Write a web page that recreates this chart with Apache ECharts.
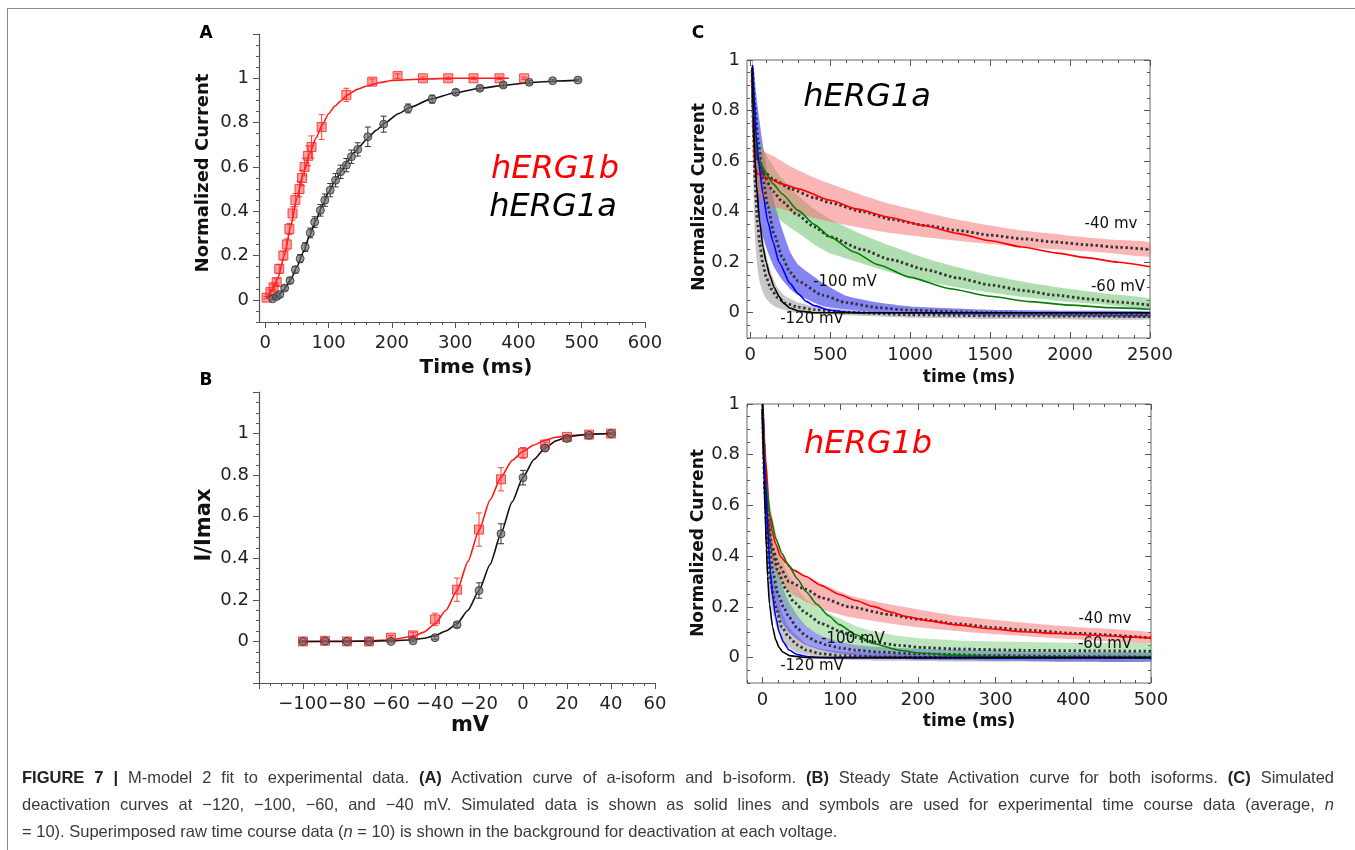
<!DOCTYPE html>
<html>
<head>
<meta charset="utf-8">
<script src="https://cdn.jsdelivr.net/npm/echarts@6/dist/echarts.min.js"></script>
<style>
html, body { margin: 0; padding: 0; background: #fff; }
#wrap { position: relative; width: 1355px; height: 850px; overflow: hidden; }
#chart { position: absolute; left: 0; top: 0; width: 1355px; height: 850px; }
#frame { position: absolute; left: 7px; top: 8px; width: 1360px; height: 900px; border-top: 1.5px solid #888; border-left: 1.5px solid #888; }
.cap { position: absolute; left: 22px; width: 1312px; font-family: "Liberation Sans", Arial, sans-serif; font-size: 16.5px; color: #3a3a3a; text-align: justify; text-align-last: justify; line-height: 20px; }
.cap.last { text-align-last: left; }
.cap b { color: #222; }
</style>
</head>
<body>
<div id="wrap">
  <div id="frame"></div>
  <div id="chart"></div>
  <div class="cap" style="top:767px"><b>FIGURE 7 |</b> M-model 2 fit to experimental data. <b>(A)</b> Activation curve of a-isoform and b-isoform. <b>(B)</b> Steady State Activation curve for both isoforms. <b>(C)</b> Simulated</div>
  <div class="cap" style="top:794px">deactivation curves at −120, −100, −60, and −40 mV. Simulated data is shown as solid lines and symbols are used for experimental time course data (average, <i>n</i></div>
  <div class="cap last" style="top:821px">= 10). Superimposed raw time course data (<i>n</i> = 10) is shown in the background for deactivation at each voltage.</div>
</div>
<script>
// ---- panel A: activation time course ----
const aRedX = [2, 8, 13, 18, 22, 28.5, 34, 38, 43, 47.5, 54, 58, 62, 67.6, 73, 89, 128, 169, 209, 249, 289, 329, 370, 409]
const aRedY = [0.01, 0.035, 0.057, 0.08, 0.14, 0.2, 0.25, 0.32, 0.39, 0.45, 0.5, 0.55, 0.6, 0.65, 0.69, 0.78, 0.925, 0.985, 1.01, 1.0, 1.0, 1.0, 1.0, 1.0]
const aRedErr = [0.005, 0.01, 0.012, 0.015, 0.02, 0.02, 0.025, 0.025, 0.03, 0.03, 0.035, 0.035, 0.04, 0.045, 0.05, 0.056, 0.03, 0.012, 0.01, 0.006, 0.005, 0.005, 0.005, 0.005]
const aBlackX = [11.6, 18, 23, 30.6, 39, 47.5, 55, 63, 71, 78, 87, 94, 102.5, 111, 119, 128, 136, 146, 162, 187, 225.6, 263.6, 301, 339, 376, 417, 454, 494]
const aBlackY = [0.005, 0.015, 0.024, 0.053, 0.087, 0.136, 0.186, 0.238, 0.302, 0.351, 0.404, 0.45, 0.495, 0.54, 0.578, 0.608, 0.646, 0.679, 0.736, 0.793, 0.864, 0.906, 0.937, 0.955, 0.97, 0.982, 0.989, 0.992]
const aBlackErr = [0.005, 0.006, 0.008, 0.01, 0.012, 0.015, 0.018, 0.02, 0.022, 0.024, 0.026, 0.028, 0.03, 0.03, 0.03, 0.03, 0.03, 0.03, 0.044, 0.036, 0.02, 0.018, 0.012, 0.01, 0.01, 0.008, 0.006, 0.005]
const aRedFit = [[2, 0.005], [10, 0.04], [20, 0.1], [30, 0.2], [40, 0.33], [50, 0.46], [60, 0.57], [70, 0.66], [80, 0.73], [90, 0.79], [100, 0.84], [110, 0.875], [120, 0.9], [130, 0.925], [145, 0.95], [160, 0.965], [180, 0.98], [200, 0.99], [250, 0.997], [300, 1.0], [385, 1.0]]
const aBlackFit = [[12, 0.0], [20, 0.018], [30, 0.048], [40, 0.09], [50, 0.15], [60, 0.215], [70, 0.29], [80, 0.36], [90, 0.425], [100, 0.485], [110, 0.535], [120, 0.58], [130, 0.625], [140, 0.665], [150, 0.695], [160, 0.725], [175, 0.765], [190, 0.8], [210, 0.84], [230, 0.87], [260, 0.905], [300, 0.935], [340, 0.955], [380, 0.97], [420, 0.981], [460, 0.988], [494, 0.992]]

// ---- panel B: steady state activation ----
const bX = [-100, -90, -80, -70, -60, -50, -40, -30, -20, -10, 0, 10, 20, 30, 40]
const bRedY = [0.0, 0.003, 0.0, 0.0, 0.018, 0.029, 0.106, 0.249, 0.538, 0.78, 0.907, 0.947, 0.984, 0.995, 1.0]
const bRedErr = [0.004, 0.004, 0.004, 0.004, 0.01, 0.015, 0.03, 0.056, 0.08, 0.056, 0.026, 0.012, 0.008, 0.005, 0.004]
const bBlackY = [0.0, 0.002, 0.0, 0.0, 0.0, 0.003, 0.018, 0.08, 0.245, 0.518, 0.788, 0.93, 0.976, 0.992, 1.0]
const bBlackErr = [0.003, 0.003, 0.003, 0.003, 0.004, 0.005, 0.008, 0.012, 0.037, 0.048, 0.035, 0.015, 0.008, 0.004, 0.003]
const bRedFit = [[-100, 0], [-80, 0.001], [-70, 0.003], [-60, 0.008], [-50, 0.025], [-45, 0.045], [-40, 0.085], [-35, 0.15], [-30, 0.245], [-25, 0.385], [-20, 0.535], [-15, 0.68], [-10, 0.79], [-5, 0.87], [0, 0.915], [5, 0.945], [10, 0.968], [15, 0.982], [20, 0.99], [30, 0.997], [40, 1.0]]
const bBlackFit = [[-100, 0], [-80, 0.0], [-70, 0.001], [-60, 0.003], [-50, 0.008], [-45, 0.015], [-40, 0.028], [-35, 0.05], [-30, 0.085], [-25, 0.15], [-20, 0.245], [-15, 0.37], [-10, 0.52], [-5, 0.67], [0, 0.79], [5, 0.875], [10, 0.93], [15, 0.965], [20, 0.985], [30, 0.997], [40, 1.0]]

// ---- panel C top: hERG1a deactivation [t, value] / [t, low, high] ----
const sim120a = [[12, 0.97], [20, 0.78], [28, 0.63], [40, 0.5], [59, 0.36], [80, 0.26], [100, 0.2], [122, 0.148], [150, 0.1], [180, 0.065], [205, 0.04], [250, 0.018], [300, 0.007], [400, 0], [2500, 0]]
const mean120a = [[12, 0.96], [20, 0.72], [30, 0.52], [45, 0.36], [60, 0.27], [80, 0.19], [100, 0.14], [130, 0.095], [170, 0.06], [220, 0.038], [300, 0.022], [400, 0.012], [600, 0.002], [1000, -0.008], [1500, -0.012], [2500, -0.015]]
const band120a = [[12, 0.85, 0.98], [20, 0.5, 0.85], [30, 0.3, 0.7], [45, 0.18, 0.52], [60, 0.12, 0.4], [80, 0.08, 0.3], [100, 0.055, 0.23], [130, 0.035, 0.16], [170, 0.02, 0.1], [220, 0.01, 0.065], [300, 0.0, 0.04], [400, -0.005, 0.025], [600, -0.01, 0.012], [1000, -0.02, 0.0], [1500, -0.025, -0.002], [2500, -0.027, -0.005]]
const sim100a = [[14, 0.98], [25, 0.85], [38, 0.7], [55, 0.58], [80, 0.47], [110, 0.36], [143, 0.28], [180, 0.2], [250, 0.115], [300, 0.075], [350, 0.045], [400, 0.028], [500, 0.01], [600, 0.003], [700, 0], [2500, 0]]
const mean100a = [[14, 0.97], [30, 0.82], [50, 0.68], [80, 0.53], [110, 0.42], [150, 0.31], [200, 0.22], [250, 0.16], [300, 0.125], [450, 0.07], [600, 0.04], [800, 0.02], [1000, 0.01], [1500, 0.0], [2000, -0.005], [2500, -0.008]]
const band100a = [[14, 0.9, 1.0], [25, 0.6, 0.95], [40, 0.45, 0.85], [60, 0.35, 0.75], [80, 0.3, 0.66], [110, 0.24, 0.55], [150, 0.18, 0.44], [200, 0.13, 0.33], [250, 0.094, 0.24], [300, 0.07, 0.19], [450, 0.027, 0.12], [600, 0.013, 0.067], [800, 0.002, 0.04], [1000, -0.005, 0.025], [1500, -0.012, 0.012], [2000, -0.015, 0.008], [2500, -0.018, 0.005]]
const sim60a = [[12, 0.88], [20, 0.75], [30, 0.68], [45, 0.63], [70, 0.585], [100, 0.55], [143, 0.51], [200, 0.47], [300, 0.405], [400, 0.35], [500, 0.3], [650, 0.24], [800, 0.19], [1000, 0.14], [1250, 0.095], [1500, 0.065], [1750, 0.044], [2000, 0.03], [2250, 0.02], [2500, 0.014]]
const mean60a = [[12, 0.92], [25, 0.72], [45, 0.62], [80, 0.55], [143, 0.48], [200, 0.44], [289, 0.39], [400, 0.34], [500, 0.3], [700, 0.25], [878, 0.21], [1100, 0.17], [1294, 0.138], [1500, 0.11], [1710, 0.088], [1900, 0.07], [2126, 0.054], [2300, 0.042], [2500, 0.03]]
const band60a = [[12, 0.85, 0.95], [25, 0.6, 0.78], [45, 0.5, 0.7], [80, 0.44, 0.65], [143, 0.4, 0.58], [200, 0.36, 0.53], [289, 0.32, 0.47], [400, 0.27, 0.41], [500, 0.235, 0.37], [700, 0.195, 0.31], [878, 0.16, 0.265], [1100, 0.125, 0.215], [1300, 0.1, 0.18], [1500, 0.08, 0.148], [1710, 0.062, 0.122], [2000, 0.042, 0.094], [2250, 0.03, 0.074], [2500, 0.018, 0.056]]
const sim40a = [[12, 0.95], [20, 0.7], [30, 0.58], [45, 0.55], [100, 0.535], [200, 0.51], [300, 0.49], [500, 0.445], [670, 0.41], [873, 0.377], [1086, 0.345], [1300, 0.313], [1502, 0.285], [1700, 0.26], [1918, 0.236], [2100, 0.218], [2300, 0.2], [2500, 0.182]]
const mean40a = [[12, 0.95], [25, 0.7], [45, 0.6], [100, 0.55], [150, 0.525], [254, 0.49], [400, 0.455], [500, 0.435], [700, 0.4], [878, 0.37], [1100, 0.345], [1294, 0.326], [1500, 0.307], [1710, 0.292], [1900, 0.28], [2126, 0.268], [2300, 0.259], [2500, 0.25]]
const band40a = [[12, 0.9, 1.0], [25, 0.55, 0.75], [45, 0.47, 0.66], [80, 0.44, 0.64], [143, 0.42, 0.62], [250, 0.4, 0.58], [400, 0.375, 0.535], [500, 0.36, 0.51], [700, 0.335, 0.465], [878, 0.315, 0.43], [1077, 0.3, 0.4], [1300, 0.285, 0.368], [1500, 0.272, 0.345], [1700, 0.26, 0.325], [2000, 0.247, 0.305], [2250, 0.236, 0.29], [2500, 0.222, 0.278]]

// ---- panel C bottom: hERG1b deactivation ----
const sim120b = [[0, 1], [2, 0.7], [3.5, 0.56], [5, 0.43], [6.5, 0.32], [9, 0.21], [13, 0.12], [17, 0.07], [21.5, 0.04], [26, 0.022], [35, 0.008], [50, 0.002], [70, 0], [500, 0]]
const mean120b = [[0, 0.97], [3, 0.65], [6.5, 0.42], [10, 0.3], [17, 0.2], [25, 0.12], [34, 0.08], [45, 0.05], [56, 0.03], [75, 0.016], [100, 0.008], [150, 0.003], [250, 0], [500, 0]]
const band120b = [[1, 0.8, 0.98], [3, 0.55, 0.78], [6.5, 0.33, 0.52], [10, 0.22, 0.39], [17, 0.13, 0.28], [25, 0.07, 0.18], [34, 0.04, 0.12], [45, 0.02, 0.085], [56, 0.01, 0.055], [75, 0.0, 0.035], [100, -0.008, 0.025], [150, -0.012, 0.018], [250, -0.015, 0.015], [500, -0.015, 0.015]]
const sim100b = [[0, 1], [2, 0.8], [4.3, 0.68], [7, 0.48], [10, 0.34], [13, 0.24], [17, 0.16], [21.5, 0.1], [27, 0.06], [34, 0.03], [45, 0.012], [60, 0.003], [80, 0], [500, 0]]
const mean100b = [[0, 0.97], [3, 0.75], [6, 0.55], [10, 0.42], [13, 0.34], [20, 0.25], [27, 0.2], [34, 0.16], [45, 0.115], [56, 0.085], [70, 0.063], [82, 0.05], [100, 0.038], [120, 0.03], [150, 0.022], [200, 0.015], [300, 0.008], [400, 0.004], [500, 0.002]]
const band100b = [[1, 0.85, 1.0], [3, 0.62, 0.88], [6, 0.43, 0.68], [10, 0.3, 0.55], [13, 0.24, 0.45], [20, 0.17, 0.34], [27, 0.13, 0.27], [34, 0.1, 0.22], [45, 0.07, 0.165], [56, 0.05, 0.125], [70, 0.035, 0.095], [82, 0.025, 0.078], [100, 0.015, 0.062], [120, 0.008, 0.05], [150, 0.0, 0.042], [200, -0.008, 0.035], [300, -0.012, 0.028], [400, -0.015, 0.022], [500, -0.015, 0.02]]
const sim60b = [[0, 1], [4, 0.7], [10, 0.56], [17, 0.47], [25, 0.41], [34, 0.36], [45, 0.31], [56, 0.26], [70, 0.21], [85, 0.165], [99, 0.13], [120, 0.09], [142, 0.056], [176, 0.029], [206, 0.017], [250, 0.009], [300, 0.004], [400, 0.001], [500, 0]]
const mean60b = [[0, 0.98], [5, 0.6], [10, 0.45], [20, 0.34], [30, 0.27], [40, 0.22], [56, 0.175], [75, 0.135], [99, 0.105], [120, 0.08], [142, 0.062], [176, 0.048], [206, 0.04], [250, 0.034], [336, 0.029], [420, 0.027], [500, 0.025]]
const band60b = [[2, 0.6, 0.9], [5, 0.45, 0.72], [10, 0.34, 0.56], [20, 0.26, 0.42], [30, 0.2, 0.35], [40, 0.16, 0.29], [56, 0.12, 0.23], [75, 0.085, 0.19], [99, 0.06, 0.155], [120, 0.04, 0.125], [142, 0.025, 0.105], [176, 0.015, 0.085], [206, 0.01, 0.075], [250, 0.005, 0.068], [336, 0.0, 0.062], [420, -0.002, 0.058], [500, -0.005, 0.055]]
const sim40b = [[0, 1.0], [4, 0.78], [8.6, 0.58], [12, 0.5], [17, 0.448], [23, 0.4], [30, 0.375], [40, 0.345], [56, 0.32], [75, 0.285], [99, 0.249], [120, 0.225], [142, 0.202], [165, 0.18], [185, 0.162], [215, 0.145], [250, 0.129], [290, 0.115], [336, 0.102], [380, 0.095], [422, 0.089], [460, 0.083], [500, 0.078]]
const mean40b = [[0, 0.98], [4, 0.7], [8, 0.52], [12, 0.44], [20, 0.37], [34, 0.3], [55, 0.27], [77, 0.235], [112, 0.2], [163, 0.17], [200, 0.152], [250, 0.133], [300, 0.118], [336, 0.109], [400, 0.096], [500, 0.078]]
const band40b = [[2, 0.65, 0.95], [5, 0.5, 0.8], [10, 0.4, 0.6], [20, 0.32, 0.46], [34, 0.26, 0.36], [56, 0.22, 0.32], [77, 0.19, 0.29], [112, 0.16, 0.245], [163, 0.135, 0.21], [200, 0.12, 0.19], [250, 0.105, 0.165], [300, 0.092, 0.148], [336, 0.085, 0.138], [400, 0.072, 0.122], [500, 0.058, 0.1]]

// tick labels
const aXLabels = [0, 100, 200, 300, 400, 500, 600]
const aYLabels = [0, 0.2, 0.4, 0.6, 0.8, 1]
const bXLabels = [-100, -80, -60, -40, -20, 0, 20, 40, 60]
const bYLabels = [0, 0.2, 0.4, 0.6, 0.8, 1]
const cTopXLabels = [0, 500, 1000, 1500, 2000, 2500]
const cBotXLabels = [0, 100, 200, 300, 400, 500]
const cYLabels = [0, 0.2, 0.4, 0.6, 0.8, 1]

function steps(from, to, step) {
  const out = []
  for (let v = from; v <= to + step / 1000; v += step) out.push(Math.round(v * 1000) / 1000)
  return out
}

const chart = echarts.init(document.getElementById('chart'))
const xAxes = []
const yAxes = []
const axisColor = '#555'

function fmt(v) {
  return String(Math.round(v * 100) / 100).replace('-', '\u2212')
}

function valueAxis(grid, min, max, position, o) {
  return {
    type: 'value', gridIndex: grid, min, max, position,
    axisLine: { show: !!o.line, onZero: false, lineStyle: { color: axisColor, width: 1.2 } },
    axisTick: { show: true, inside: !!o.inside, length: o.len, customValues: o.ticks, lineStyle: { color: axisColor, width: 1 } },
    axisLabel: o.labels
      ? { show: true, customValues: o.labels, formatter: fmt, margin: o.margin, fontFamily: 'DejaVu Sans', fontSize: 18, color: '#222' }
      : { show: false },
    splitLine: { show: false },
  }
}

// main axis + minor-tick axis (+ mirrored pair on the opposite side for boxed plots)
function addAxes(list, grid, min, max, sides, labels, major, minor, o) {
  const main = list.length
  list.push(valueAxis(grid, min, max, sides[0], { line: !o.box, inside: o.box, len: 6, ticks: major, labels, margin: o.margin }))
  list.push(valueAxis(grid, min, max, sides[0], { inside: o.box, len: 3, ticks: minor }))
  if (o.box) {
    list.push(valueAxis(grid, min, max, sides[1], { inside: true, len: 6, ticks: major }))
    list.push(valueAxis(grid, min, max, sides[1], { inside: true, len: 3, ticks: minor }))
  }
  return main
}

const ax = {
  A: [addAxes(xAxes, 0, -10, 600, ['bottom'], aXLabels, aXLabels, steps(0, 600, 20), { margin: 12 }),
      addAxes(yAxes, 0, -0.1, 1.2, ['left'], aYLabels, steps(0, 1.2, 0.2), steps(-0.1, 1.2, 0.05), { margin: 10 })],
  B: [addAxes(xAxes, 1, -120, 60, ['bottom'], bXLabels, steps(-120, 60, 20), steps(-120, 60, 5), { margin: 12 }),
      addAxes(yAxes, 1, -0.2, 1.2, ['left'], bYLabels, steps(-0.2, 1.2, 0.2), steps(-0.2, 1.2, 0.05), { margin: 10 })],
  Ca: [addAxes(xAxes, 2, -20, 2500, ['bottom', 'top'], cTopXLabels, cTopXLabels, steps(0, 2500, 100), { box: true, margin: 8 }),
       addAxes(yAxes, 2, -0.1, 1, ['left', 'right'], cYLabels, cYLabels, steps(-0.1, 1, 0.05), { box: true, margin: 7 })],
  Cb: [addAxes(xAxes, 3, -20, 500, ['bottom', 'top'], cBotXLabels, cBotXLabels, steps(-20, 500, 20), { box: true, margin: 8 }),
       addAxes(yAxes, 3, -0.1, 1, ['left', 'right'], cYLabels, cYLabels, steps(-0.1, 1, 0.05), { box: true, margin: 7 })],
}

function on(p) {
  return { xAxisIndex: ax[p][0], yAxisIndex: ax[p][1] }
}

function fitLine(p, data, color) {
  return { type: 'line', ...on(p), data, symbol: 'none', smooth: 0.2, smoothMonotone: 'x', z: 3,
    lineStyle: { color, width: 1.6 }, silent: true }
}

function dottedLine(p, data) {
  return { type: 'line', ...on(p), data, symbol: 'none', smooth: 0.2, smoothMonotone: 'x', z: 2,
    lineStyle: { color: '#333', width: 2.8, type: [2.4, 2.6] }, silent: true }
}

function band(p, rows, fill) {
  return {
    type: 'custom', ...on(p), data: rows, encode: { x: 0, y: [1, 2] }, silent: true, z: 1,
    renderItem(params, api) {
      if (params.dataIndex !== 0) return null
      const upper = rows.map(r => api.coord([r[0], r[2]]))
      const lower = rows.map(r => api.coord([r[0], r[1]])).reverse()
      return { type: 'polygon', shape: { points: upper.concat(lower), smooth: 0.15 }, style: { fill } }
    },
  }
}

function errorBars(p, xs, ys, errs, color) {
  return {
    type: 'custom', ...on(p), silent: true, z: 3,
    data: xs.map((x, i) => [x, ys[i] - errs[i], ys[i] + errs[i]]),
    encode: { x: 0, y: [1, 2] },
    renderItem(params, api) {
      const top = api.coord([api.value(0), api.value(2)])
      const bot = api.coord([api.value(0), api.value(1)])
      const style = { stroke: color, lineWidth: 1 }
      return { type: 'group', children: [
        { type: 'line', shape: { x1: top[0], y1: top[1], x2: bot[0], y2: bot[1] }, style },
        { type: 'line', shape: { x1: top[0] - 3, y1: top[1], x2: top[0] + 3, y2: top[1] }, style },
        { type: 'line', shape: { x1: bot[0] - 3, y1: bot[1], x2: bot[0] + 3, y2: bot[1] }, style },
      ] }
    },
  }
}

function markers(p, xs, ys, kind) {
  const red = kind === 'square'
  return { type: 'scatter', ...on(p), data: xs.map((x, i) => [x, ys[i]]), silent: true, z: 4,
    symbol: red ? 'rect' : 'circle', symbolSize: red ? 9 : 8,
    itemStyle: red
      ? { color: 'rgba(255,40,40,0.55)', borderColor: '#ff2020', borderWidth: 1 }
      : { color: 'rgba(110,110,110,0.85)', borderColor: '#2a2a2a', borderWidth: 1 } }
}

const series = [
  fitLine('A', aRedFit, '#ff1a1a'), fitLine('A', aBlackFit, '#111'),
  errorBars('A', aRedX, aRedY, aRedErr, '#ff4040'), errorBars('A', aBlackX, aBlackY, aBlackErr, '#333'),
  markers('A', aRedX, aRedY, 'square'), markers('A', aBlackX, aBlackY, 'circle'),

  fitLine('B', bRedFit, '#ff1a1a'), fitLine('B', bBlackFit, '#111'),
  errorBars('B', bX, bRedY, bRedErr, '#ff4040'), errorBars('B', bX, bBlackY, bBlackErr, '#333'),
  markers('B', bX, bRedY, 'square'), markers('B', bX, bBlackY, 'circle'),

  band('Ca', band120a, 'rgba(130,130,130,0.45)'), band('Ca', band100a, 'rgba(50,50,235,0.6)'),
  band('Ca', band60a, 'rgba(100,190,100,0.5)'), band('Ca', band40a, 'rgba(245,110,110,0.5)'),
  dottedLine('Ca', mean120a), dottedLine('Ca', mean100a), dottedLine('Ca', mean60a), dottedLine('Ca', mean40a),
  fitLine('Ca', sim40a, '#ff0000'), fitLine('Ca', sim60a, '#008000'), fitLine('Ca', sim100a, '#0000ff'), fitLine('Ca', sim120a, '#000'),

  band('Cb', band120b, 'rgba(130,130,130,0.45)'), band('Cb', band100b, 'rgba(60,60,235,0.5)'),
  band('Cb', band60b, 'rgba(110,200,110,0.45)'), band('Cb', band40b, 'rgba(245,110,110,0.5)'),
  dottedLine('Cb', mean120b), dottedLine('Cb', mean100b), dottedLine('Cb', mean60b), dottedLine('Cb', mean40b),
  fitLine('Cb', sim40b, '#ff0000'), fitLine('Cb', sim60b, '#008000'), fitLine('Cb', sim100b, '#0000ff'), fitLine('Cb', sim120b, '#000'),
]

function txt(text, x, y, o) {
  o = o || {}
  return { type: 'text', x, y, rotation: o.rot || 0, z: 10, silent: true,
    style: { text, fill: o.color || '#111', fontFamily: 'DejaVu Sans', fontSize: o.size || 18,
      fontWeight: o.bold ? 'bold' : 'normal', fontStyle: o.italic ? 'italic' : 'normal',
      textAlign: o.align || 'center', textVerticalAlign: 'middle', align: o.align || 'center', verticalAlign: 'middle' } }
}

const graphics = [
  txt('A', 206, 34, { bold: true, size: 17, color: '#000' }),
  txt('B', 206, 381, { bold: true, size: 17, color: '#000' }),
  txt('C', 698, 34, { bold: true, size: 17, color: '#000' }),
  txt('Normalized Current', 203, 173, { bold: true, size: 18, rot: Math.PI / 2 }),
  txt('Time (ms)', 476, 368, { bold: true, size: 20 }),
  txt('hERG1b', 555, 170, { italic: true, size: 32, color: '#ff0000' }),
  txt('hERG1a', 553, 208, { italic: true, size: 32, color: '#000' }),
  txt('I/Imax', 205, 525, { bold: true, size: 21, rot: Math.PI / 2 }),
  txt('mV', 470, 726, { bold: true, size: 21 }),
  txt('Normalized Current', 700, 197, { bold: true, size: 17, rot: Math.PI / 2 }),
  txt('time (ms)', 969, 378, { bold: true, size: 17 }),
  txt('hERG1a', 867, 98, { italic: true, size: 32, color: '#000' }),
  txt('-40 mv', 1111, 224, { size: 15 }),
  txt('-60 mV', 1118, 287, { size: 15 }),
  txt('-100 mV', 845, 282, { size: 15 }),
  txt('-120 mV', 812, 319, { size: 15 }),
  txt('Normalized Current', 699, 543, { bold: true, size: 17, rot: Math.PI / 2 }),
  txt('time (ms)', 969, 722, { bold: true, size: 17 }),
  txt('hERG1b', 868, 445, { italic: true, size: 32, color: '#ff0000' }),
  txt('-40 mv', 1105, 619, { size: 15 }),
  txt('-60 mV', 1105, 644, { size: 15 }),
  txt('-100 mV', 853, 639, { size: 15 }),
  txt('-120 mV', 812, 666, { size: 15 }),
]

chart.setOption({
  animation: false,
  grid: [
    { left: 259, top: 34, width: 386, height: 288 },
    { left: 259, top: 392, width: 396, height: 291 },
    { left: 747, top: 60, width: 403, height: 278, show: true, borderColor: '#666', borderWidth: 1 },
    { left: 747, top: 404, width: 404, height: 279, show: true, borderColor: '#666', borderWidth: 1 },
  ],
  xAxis: xAxes,
  yAxis: yAxes,
  series,
  graphic: { elements: graphics },
})
</script>
</body>
</html>
